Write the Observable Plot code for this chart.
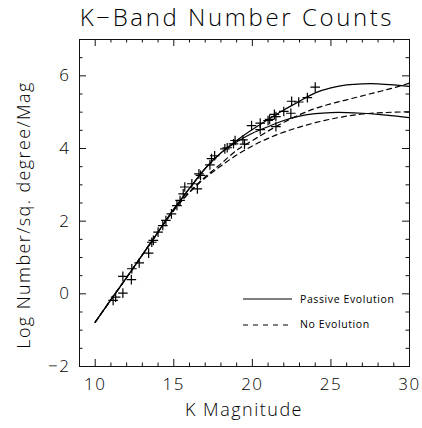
<!DOCTYPE html>
<html><head><meta charset="utf-8">
<script src="https://cdn.jsdelivr.net/npm/d3@7"></script>
<script src="https://cdn.jsdelivr.net/npm/@observablehq/plot@0.6"></script>
<style>
body{margin:0;background:#fff;}
#wrap{position:relative;width:422px;height:428px;font-family:"Open Sans",sans-serif;color:#000;overflow:hidden;}
.t{position:absolute;white-space:nowrap;font-weight:300;}
</style></head><body><div id="wrap"></div>
<script>
// ---- data ----
const title = "K\u2212Band Number Counts";
const xLabel = "K Magnitude";
const yLabel = "Log Number/sq. degree/Mag";
const xTicks = [10, 15, 20, 25, 30];
const yTicks = [-2, 0, 2, 4, 6];
const legendLabels = ["Passive Evolution", "No Evolution"];

// model curves
const modelK       = [10, 11, 12, 13, 14, 15, 16, 17, 18, 19, 20, 21, 22, 23, 24, 25, 26, 27, 28, 29, 30];
const passiveHigh  = [-0.78, -0.16, 0.45, 1.07, 1.70, 2.33, 2.90, 3.45, 3.88, 4.22, 4.52, 4.80, 5.06, 5.30, 5.53, 5.67, 5.75, 5.78, 5.78, 5.75, 5.71];
const passiveLow   = [-0.78, -0.16, 0.45, 1.07, 1.70, 2.33, 2.90, 3.45, 3.88, 4.18, 4.42, 4.60, 4.77, 4.89, 4.96, 4.99, 4.99, 4.97, 4.94, 4.90, 4.85];
const noEvoHigh    = [-0.78, -0.16, 0.45, 1.07, 1.70, 2.30, 2.80, 3.22, 3.58, 3.95, 4.22, 4.48, 4.72, 4.93, 5.10, 5.23, 5.34, 5.45, 5.56, 5.67, 5.80];
const noEvoLow     = [-0.78, -0.16, 0.45, 1.07, 1.70, 2.30, 2.79, 3.19, 3.52, 3.82, 4.07, 4.28, 4.45, 4.59, 4.71, 4.81, 4.89, 4.95, 4.98, 5.00, 5.01];

// observed counts
const obsK = [11.14, 11.3, 11.76, 11.76, 12.3, 12.33, 12.8, 13.4, 13.6, 13.7, 14.0, 14.3, 14.5, 14.85, 15.2, 15.4, 15.6, 15.7, 16.15, 16.5, 16.6, 16.7, 17.3, 17.4, 17.6, 18.25, 18.4, 18.8, 18.9, 19.4, 19.5, 19.95, 20.5, 20.5, 21.0, 21.1, 21.4, 21.5, 21.5, 22.0, 22.45, 22.5, 22.95, 23.5, 24.0];
const obsN = [-0.18, -0.09, 0.02, 0.48, 0.39, 0.69, 0.85, 1.12, 1.42, 1.47, 1.70, 1.88, 2.02, 2.20, 2.43, 2.57, 2.75, 2.94, 3.03, 2.89, 3.30, 3.26, 3.55, 3.72, 3.80, 3.99, 4.02, 4.13, 4.22, 4.24, 4.12, 4.63, 4.70, 4.52, 4.77, 4.80, 4.94, 4.88, 4.60, 5.02, 4.97, 5.30, 5.28, 5.40, 5.69];

// ---- build ----
const W = 422, H = 428, mt = 39, mb = 62, ml = 79, mr = 13;
const ph = H - mt - mb, pw = W - ml - mr;
const curves = [
  {name: "pH", ys: passiveHigh, dash: null},
  {name: "pL", ys: passiveLow, dash: null},
  {name: "nH", ys: noEvoHigh, dash: "5,4"},
  {name: "nL", ys: noEvoLow, dash: "5,4"}
];
const obs = obsK.map((k, i) => ({k, n: obsN[i]}));
const xMinor = d3.range(9, 31).filter(v => !xTicks.includes(v));
const yMinor = d3.range(-2, 7.01, 0.5).filter(v => !yTicks.includes(v));
const MAJ = 7, MIN = 3.5;
const fmt = d => d < 0 ? "\u2212" + (-d) : String(d);

const marks = [Plot.frame({stroke: "#111", strokeWidth: 1})];
marks.push(
  Plot.ruleX(xTicks, {insetTop: ph - MAJ, stroke: "#111"}),
  Plot.ruleX(xTicks, {insetBottom: ph - MAJ, stroke: "#111"}),
  Plot.ruleX(xMinor, {insetTop: ph - MIN, stroke: "#111"}),
  Plot.ruleX(xMinor, {insetBottom: ph - MIN, stroke: "#111"}),
  Plot.ruleY(yTicks, {insetRight: pw - MAJ, stroke: "#111"}),
  Plot.ruleY(yTicks, {insetLeft: pw - MAJ, stroke: "#111"}),
  Plot.ruleY(yMinor, {insetRight: pw - MIN, stroke: "#111"}),
  Plot.ruleY(yMinor, {insetLeft: pw - MIN, stroke: "#111"}),
  Plot.axisX({ticks: xTicks, tickSize: 0, tickPadding: 11, tickFormat: fmt, label: null}),
  Plot.axisY({ticks: yTicks, tickSize: 0, tickPadding: 9, tickFormat: fmt, label: null})
);
for (const c of curves) {
  marks.push(Plot.line(modelK.map((k, i) => ({k, v: c.ys[i]})), {
    x: "k", y: "v", curve: "natural", stroke: "#000", strokeWidth: 1.2,
    strokeDasharray: c.dash || undefined
  }));
}
marks.push(Plot.dot(obs, {x: "k", y: "n", symbol: "plus", r: 3.2, stroke: "#000", strokeWidth: 1.2}));

const chart = Plot.plot({
  width: W, height: H,
  marginTop: mt, marginBottom: mb, marginLeft: ml, marginRight: mr,
  x: {domain: [9, 30]},
  y: {domain: [-2, 7]},
  style: {fontFamily: "'Open Sans', sans-serif", fontSize: "17px", fontWeight: 300, letterSpacing: "1.5px", color: "#000", background: "#fff"},
  marks
});
const wrap = document.getElementById("wrap");
wrap.appendChild(chart);

function addText(txt, css) {
  const d = document.createElement("div");
  d.className = "t";
  d.textContent = txt;
  Object.assign(d.style, css);
  wrap.appendChild(d);
  return d;
}
addText(title, {left: "77px", width: "320px", textAlign: "center", top: "2px", fontSize: "24px", letterSpacing: "2.6px", lineHeight: "30px"});
addText(xLabel, {left: "144px", width: "200px", textAlign: "center", top: "398px", fontSize: "18px", letterSpacing: "1.5px", lineHeight: "22px"});
addText(yLabel, {left: "-127px", width: "300px", textAlign: "center", top: "204px", fontSize: "18px", letterSpacing: "1.4px", lineHeight: "22px", transform: "rotate(-90deg)"});

// legend
const leg = document.createElement("div");
leg.style.position = "absolute"; leg.style.left = "243px"; leg.style.top = "290px";
leg.innerHTML = `<svg width="160" height="45" style="overflow:visible">
<line x1="0" x2="49" y1="9" y2="9" stroke="#000" stroke-width="1.1"/>
<line x1="0" x2="49" y1="35" y2="35" stroke="#000" stroke-width="1.1" stroke-dasharray="5,5"/>
<text x="57" y="13" font-size="10.5" letter-spacing="0.6" font-family="'Open Sans',sans-serif">${legendLabels[0]}</text>
<text x="57" y="38" font-size="10.5" letter-spacing="0.6" font-family="'Open Sans',sans-serif">${legendLabels[1]}</text>
</svg>`;
wrap.appendChild(leg);
</script></body></html>
